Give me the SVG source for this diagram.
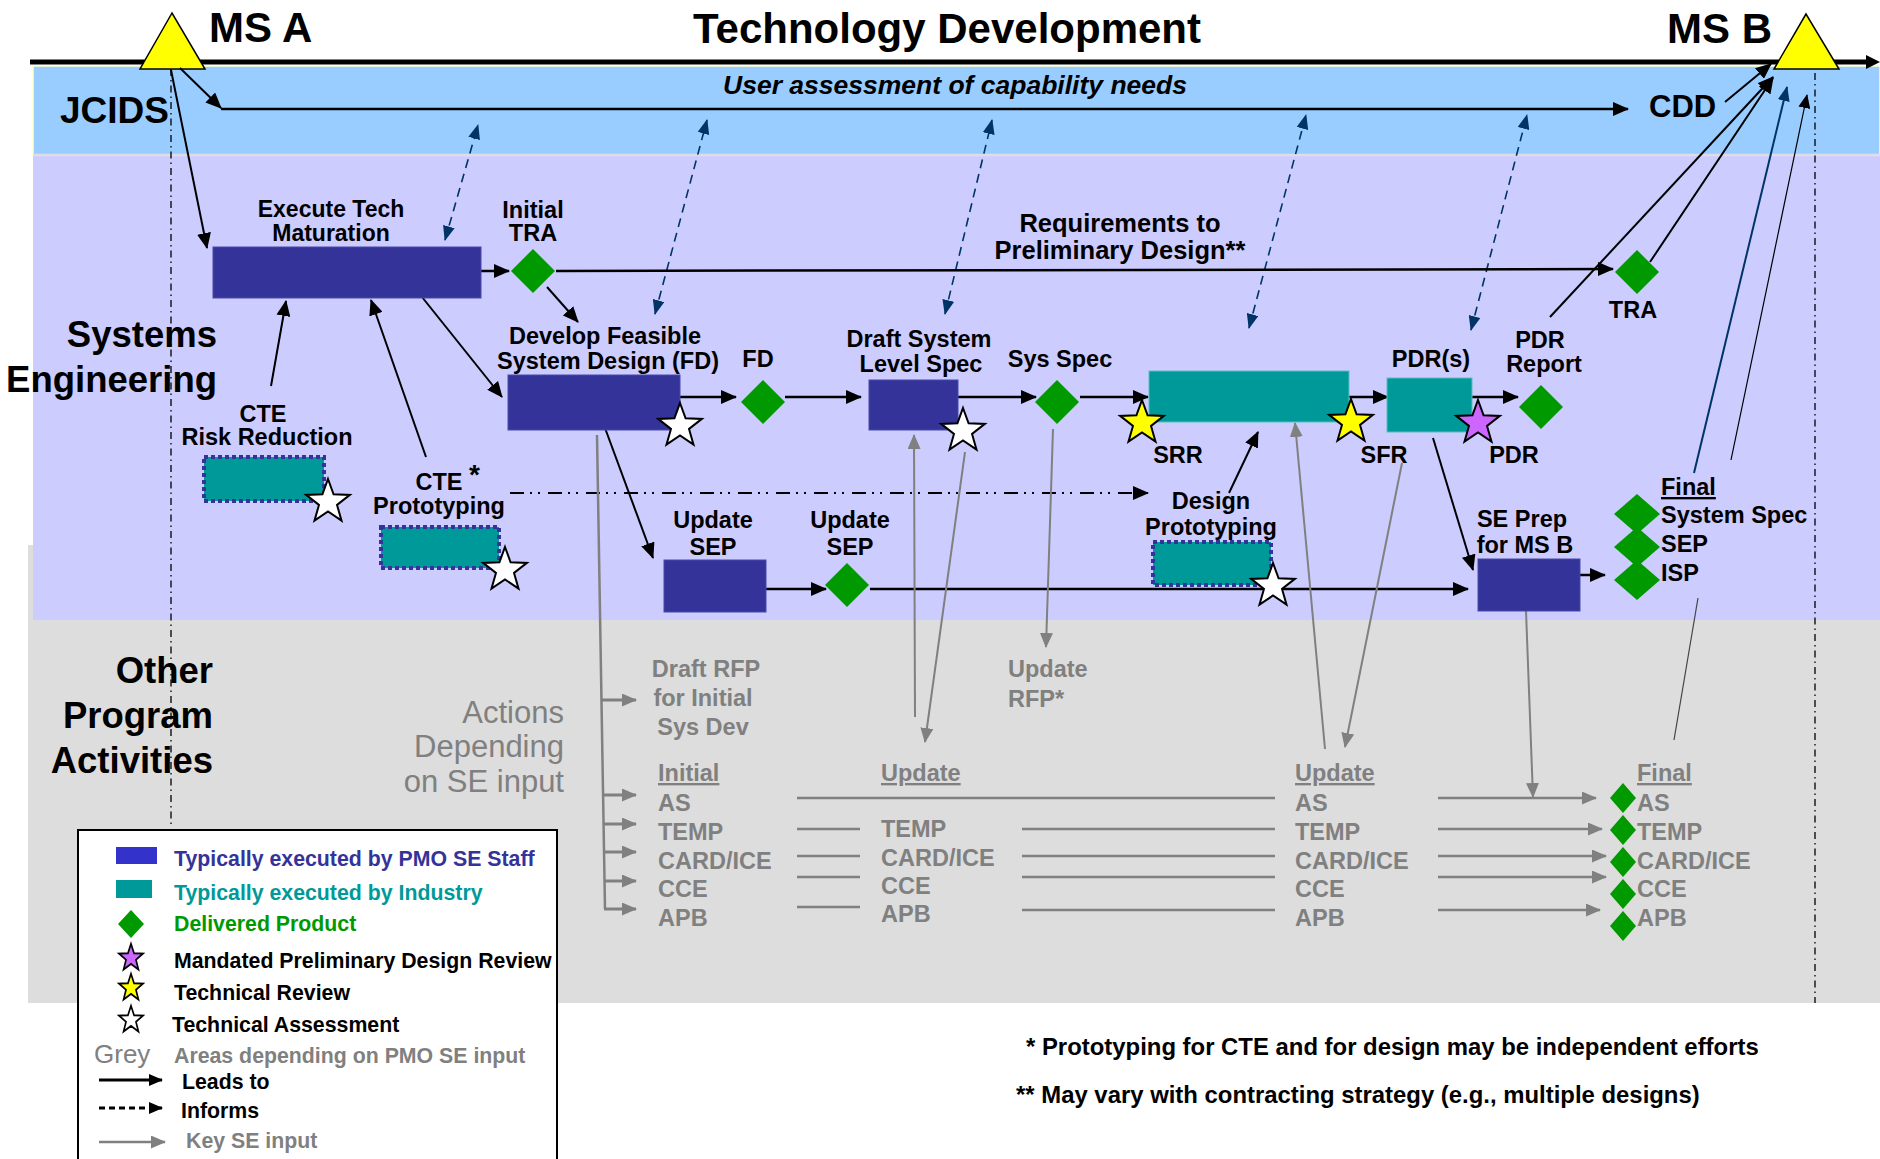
<svg xmlns="http://www.w3.org/2000/svg" xmlns:xlink="http://www.w3.org/1999/xlink" width="1880" height="1159" viewBox="0 0 1880 1159">
<style>
text{font-family:"Liberation Sans",Arial,Helvetica,sans-serif;font-weight:bold;font-size:23.5px;fill:#000}
.c{text-anchor:middle}
.e{text-anchor:end}
.g{fill:#808080}
.big{font-size:36.5px}
.title{font-size:42px}
.lg{font-size:21.3px}
.navy{fill:#333399;stroke:#4a4aa8;stroke-width:1}
.teal{fill:#009999;stroke:#5fbcbc;stroke-width:1}
.dot{fill:#009999;stroke:#333399;stroke-width:4;stroke-dasharray:4 3}
.dia{fill:#009900}
.star{stroke:#000;stroke-width:2;stroke-linejoin:miter}
.lead{stroke:#000;stroke-width:2.5;fill:none;marker-end:url(#ah)}
.lead2{stroke:#000;stroke-width:2;fill:none;marker-end:url(#ah)}
.thin{stroke:#000;stroke-width:1.2;fill:none;marker-end:url(#ahS)}
.inf{stroke:#003366;stroke-width:1.6;fill:none;stroke-dasharray:9 6;marker-start:url(#ahN);marker-end:url(#ahN)}
.key{stroke:#808080;stroke-width:2;fill:none;marker-end:url(#ahG)}
.keyT{stroke:#808080;stroke-width:3;fill:none;marker-end:url(#ahG)}
.gl{stroke:#808080;stroke-width:2.5;fill:none}
.ga{stroke:#808080;stroke-width:2.5;fill:none;marker-end:url(#ahG)}
.dd{stroke:#000;stroke-width:1.3;fill:none;stroke-dasharray:7 4 1.5 4}
</style>
<defs>
<marker id="ah" markerUnits="userSpaceOnUse" markerWidth="16" markerHeight="14" refX="15" refY="7" orient="auto"><path d="M0,0 L16,7 L0,14 z" fill="#000"/></marker>
<marker id="ahS" markerUnits="userSpaceOnUse" markerWidth="14" markerHeight="12" refX="13" refY="6" orient="auto"><path d="M0,0 L14,6 L0,12 z" fill="#000"/></marker>
<marker id="ahN" markerUnits="userSpaceOnUse" markerWidth="15" markerHeight="12" refX="14" refY="6" orient="auto-start-reverse"><path d="M0,0 L15,6 L0,12 z" fill="#003366"/></marker>
<marker id="ahG" markerUnits="userSpaceOnUse" markerWidth="15" markerHeight="13" refX="14" refY="6.5" orient="auto"><path d="M0,0 L15,6.5 L0,13 z" fill="#808080"/></marker>
<path id="star" d="M0,-23 L5.58,-7.69 L21.87,-7.11 L9.03,2.94 L13.52,18.61 L0,9.5 L-13.52,18.61 L-9.03,2.94 L-21.87,-7.11 L-5.58,-7.69 Z"/>
</defs>

<g id="background">
<rect x="0" y="0" width="1880" height="1159" fill="#fff"/>
<rect x="28" y="545" width="1852" height="458" fill="#DDDDDD"/>
<rect x="33" y="155" width="1847" height="465" fill="#CCCCFF"/>
<rect x="33" y="66" width="1847" height="89" fill="#99CCFF" stroke="#FFFFCC" stroke-width="1.5"/>
<line x1="33" y1="155" x2="1880" y2="155" stroke="#DDDDE8" stroke-width="2.5"/>
<line x1="30" y1="62" x2="1868" y2="62" stroke="#000" stroke-width="5"/>
<polygon points="1866,55 1880,62 1866,69" fill="#000"/>
<line class="dd" x1="171" y1="69" x2="171" y2="828"/>
<line class="dd" x1="1815" y1="73" x2="1815" y2="1003"/>
</g>

<g id="lane-labels">
<text x="60" y="123" style="font-size:37px">JCIDS</text>
<text class="big e" x="217" y="347">Systems</text>
<text class="big e" x="217" y="392">Engineering</text>
<text class="big e" x="213" y="683">Other</text>
<text class="big e" x="213" y="728">Program</text>
<text class="big e" x="213" y="773">Activities</text>
<text class="e g" x="564" y="723" style="font-weight:normal;font-size:31px">Actions</text>
<text class="e g" x="564" y="757" style="font-weight:normal;font-size:31px">Depending</text>
<text class="e g" x="564" y="792" style="font-weight:normal;font-size:31px">on SE input</text>
</g>

<g id="ms-a">
<polygon points="172,13 140,69 205,69" fill="#FFFF00" stroke="#000" stroke-width="1.5"/>
<text class="title" x="209" y="42">MS A</text>
</g>
<g id="title"><text class="title c" x="947" y="43">Technology Development</text></g>
<g id="ms-b">
<polygon points="1806,14 1774,69 1839,69" fill="#FFFF00" stroke="#000" stroke-width="1.5"/>
<text class="title" x="1667" y="43">MS B</text>
</g>

<g id="jcids-assessment">
<text class="c" x="955" y="94" style="font-style:italic;font-size:26.5px">User assessment of capability needs</text>
</g>
<g id="cdd"><text x="1649" y="117" style="font-size:31px">CDD</text></g>

<g id="connectors">
<line class="lead2" x1="180" y1="68" x2="221" y2="108"/>
<line class="lead" x1="221" y1="109" x2="1628" y2="109"/>
<line class="lead2" x1="1725" y1="102" x2="1771" y2="64"/>
<line class="lead2" x1="171" y1="70" x2="207" y2="248"/>
<line class="inf" x1="445" y1="240" x2="478" y2="125"/>
<line class="inf" x1="655" y1="314" x2="707" y2="120"/>
<line class="inf" x1="945" y1="314" x2="992" y2="120"/>
<line class="inf" x1="1249" y1="328" x2="1306" y2="115"/>
<line class="inf" x1="1471" y1="330" x2="1527" y2="115"/>
<line class="lead" x1="481" y1="271" x2="509" y2="271"/>
<line class="lead" x1="556" y1="271" x2="1613" y2="269"/>
<line class="lead2" x1="547" y1="287" x2="578" y2="322"/>
<line class="lead2" x1="422" y1="297" x2="502" y2="397"/>
<line class="lead2" x1="271" y1="386" x2="286" y2="301"/>
<line class="lead2" x1="426" y1="457" x2="371" y2="300"/>
<line class="lead" x1="680" y1="397" x2="736" y2="397"/>
<line class="lead" x1="785" y1="397" x2="861" y2="397"/>
<line class="lead" x1="958" y1="397" x2="1036" y2="397"/>
<line class="lead" x1="1080" y1="397" x2="1148" y2="397"/>
<line class="lead" x1="1349" y1="397" x2="1388" y2="397"/>
<line class="lead" x1="1472" y1="397" x2="1518" y2="397"/>
<line class="lead2" x1="605" y1="428" x2="653" y2="558"/>
<line class="lead" x1="766" y1="589" x2="826" y2="589"/>
<line class="lead" x1="870" y1="589" x2="1468" y2="589"/>
<line class="lead2" x1="1229" y1="493" x2="1258" y2="432"/>
<line class="lead2" x1="1433" y1="438" x2="1473" y2="570"/>
<line class="lead" x1="1580" y1="575" x2="1605" y2="575"/>
<line stroke="#000" stroke-width="2" fill="none" stroke-dasharray="14 6 2 6 2 8" marker-end="url(#ah)" x1="510" y1="493" x2="1148" y2="493"/>
<line class="lead2" x1="1550" y1="317" x2="1773" y2="77"/>
<line class="lead2" x1="1650" y1="262" x2="1773" y2="78"/>
<line stroke="#003366" stroke-width="2" fill="none" marker-end="url(#ahN)" x1="1694" y1="473" x2="1787" y2="87"/>
<line class="thin" x1="1731" y1="460" x2="1807" y2="95"/>
<line stroke="#444" stroke-width="1.2" x1="1698" y1="598" x2="1674" y2="740"/>
<polyline class="gl" points="597,435 605,909"/>
<line class="keyT" x1="601" y1="700" x2="636" y2="700"/>
<line class="keyT" x1="603" y1="795" x2="636" y2="795"/>
<line class="keyT" x1="603" y1="824" x2="636" y2="824"/>
<line class="keyT" x1="604" y1="852" x2="636" y2="852"/>
<line class="keyT" x1="604" y1="881" x2="636" y2="881"/>
<line class="keyT" x1="604" y1="909" x2="636" y2="909"/>
<line class="key" x1="1053" y1="429" x2="1046" y2="647"/>
<line class="key" x1="965" y1="452" x2="925" y2="742"/>
<line class="key" x1="915" y1="717" x2="914" y2="435"/>
<line class="key" x1="1402" y1="463" x2="1345" y2="747"/>
<line class="key" x1="1325" y1="749" x2="1295" y2="423"/>
<line class="key" x1="1526" y1="611" x2="1533" y2="797"/>
<line class="gl" x1="797" y1="798" x2="1275" y2="798"/>
<line class="gl" x1="797" y1="829" x2="860" y2="829"/>
<line class="gl" x1="797" y1="856" x2="860" y2="856"/>
<line class="gl" x1="797" y1="877" x2="860" y2="877"/>
<line class="gl" x1="797" y1="907" x2="860" y2="907"/>
<line class="gl" x1="1022" y1="829" x2="1275" y2="829"/>
<line class="gl" x1="1022" y1="856" x2="1275" y2="856"/>
<line class="gl" x1="1022" y1="877" x2="1275" y2="877"/>
<line class="gl" x1="1022" y1="910" x2="1275" y2="910"/>
<line class="ga" x1="1438" y1="798" x2="1596" y2="798"/>
<line class="ga" x1="1438" y1="829" x2="1602" y2="829"/>
<line class="ga" x1="1438" y1="856" x2="1606" y2="856"/>
<line class="ga" x1="1438" y1="877" x2="1606" y2="877"/>
<line class="ga" x1="1438" y1="910" x2="1600" y2="910"/>
</g>

<g id="execute-tech-maturation">
<rect class="navy" x="213" y="247" width="268" height="51"/>
<text class="c" x="331" y="217" style="font-size:23px">Execute Tech</text>
<text class="c" x="331" y="241" style="font-size:23px">Maturation</text>
</g>
<g id="initial-tra">
<polygon class="dia" points="533,249 555,271 533,293 511,271"/>
<text class="c" x="533" y="218">Initial</text>
<text class="c" x="533" y="241">TRA</text>
</g>
<g id="requirements-label">
<text class="c" x="1120" y="232" style="font-size:25.5px">Requirements to</text>
<text class="c" x="1120" y="259" style="font-size:25.5px">Preliminary Design**</text>
</g>
<g id="tra">
<polygon class="dia" points="1637,250 1659,272 1637,294 1615,272"/>
<text class="c" x="1633" y="318">TRA</text>
</g>
<g id="cte-risk-reduction">
<rect class="dot" x="204" y="457" width="120" height="44"/>
<use xlink:href="#star" class="star" fill="#fff" transform="translate(328,502)"/>
<text class="c" x="263" y="422">CTE</text>
<text class="c" x="267" y="445">Risk Reduction</text>
</g>
<g id="cte-prototyping">
<rect class="dot" x="381" y="527" width="118" height="41"/>
<use xlink:href="#star" class="star" fill="#fff" transform="translate(505,570)"/>
<text class="c" x="439" y="490">CTE</text>
<text x="469" y="484" style="font-size:28px">*</text>
<text class="c" x="439" y="514">Prototyping</text>
</g>
<g id="develop-feasible">
<rect class="navy" x="508" y="375" width="172" height="55"/>
<use xlink:href="#star" class="star" fill="#fff" transform="translate(680,426)"/>
<text class="c" x="605" y="344">Develop Feasible</text>
<text class="c" x="608" y="369">System Design (FD)</text>
</g>
<g id="fd">
<polygon class="dia" points="763,380 785,402 763,424 741,402"/>
<text class="c" x="758" y="367">FD</text>
</g>
<g id="draft-system-level-spec">
<rect class="navy" x="869" y="380" width="89" height="50"/>
<use xlink:href="#star" class="star" fill="#fff" transform="translate(963,431)"/>
<text class="c" x="919" y="347">Draft System</text>
<text class="c" x="921" y="372">Level Spec</text>
</g>
<g id="sys-spec">
<polygon class="dia" points="1057,380 1079,402 1057,424 1035,402"/>
<text class="c" x="1060" y="367">Sys Spec</text>
</g>
<g id="industry-design">
<rect class="teal" x="1149" y="371" width="200" height="51"/>
<use xlink:href="#star" class="star" fill="#FFFF00" transform="translate(1142,423)"/>
<use xlink:href="#star" class="star" fill="#FFFF00" transform="translate(1351,422)"/>
<text class="c" x="1178" y="463">SRR</text>
<text class="c" x="1384" y="463">SFR</text>
</g>
<g id="pdrs">
<rect class="teal" x="1387" y="378" width="85" height="54"/>
<use xlink:href="#star" class="star" fill="#CC66FF" transform="translate(1478,423)"/>
<text class="c" x="1431" y="367">PDR(s)</text>
<text class="c" x="1514" y="463">PDR</text>
</g>
<g id="pdr-report">
<polygon class="dia" points="1541,385 1563,407 1541,429 1519,407"/>
<text class="c" x="1540" y="348">PDR</text>
<text class="c" x="1544" y="372">Report</text>
</g>
<g id="design-prototyping">
<rect class="dot" x="1153" y="542" width="118" height="43"/>
<use xlink:href="#star" class="star" fill="#fff" transform="translate(1273,586)"/>
<text class="c" x="1211" y="509">Design</text>
<text class="c" x="1211" y="535">Prototyping</text>
</g>
<g id="update-sep-1">
<rect class="navy" x="664" y="560" width="102" height="52"/>
<text class="c" x="713" y="528">Update</text>
<text class="c" x="713" y="555">SEP</text>
</g>
<g id="update-sep-2">
<polygon class="dia" points="847,563 869,585 847,607 825,585"/>
<text class="c" x="850" y="528">Update</text>
<text class="c" x="850" y="555">SEP</text>
</g>
<g id="se-prep">
<rect class="navy" x="1478" y="559" width="102" height="52"/>
<text class="c" x="1522" y="527">SE Prep</text>
<text class="c" x="1525" y="553">for MS B</text>
</g>
<g id="final-products">
<polygon class="dia" points="1637,494 1660,514 1637,534 1614,514"/>
<polygon class="dia" points="1637,527 1660,547 1637,567 1614,547"/>
<polygon class="dia" points="1637,560 1660,580 1637,600 1614,580"/>
<text x="1661" y="495" text-decoration="underline">Final</text>
<text x="1661" y="523">System Spec</text>
<text x="1661" y="552">SEP</text>
<text x="1661" y="581">ISP</text>
</g>

<g id="draft-rfp">
<text class="c g" x="706" y="677">Draft RFP</text>
<text class="c g" x="703" y="706">for Initial</text>
<text class="c g" x="703" y="735">Sys Dev</text>
</g>
<g id="update-rfp">
<text class="g" x="1008" y="677">Update</text>
<text class="g" x="1008" y="707">RFP*</text>
</g>
<g id="initial-docs">
<text class="g" x="658" y="781" text-decoration="underline">Initial</text>
<text class="g" x="658" y="811">AS</text>
<text class="g" x="658" y="840">TEMP</text>
<text class="g" x="658" y="869">CARD/ICE</text>
<text class="g" x="658" y="897">CCE</text>
<text class="g" x="658" y="926">APB</text>
</g>
<g id="update-docs-1">
<text class="g" x="881" y="781" text-decoration="underline">Update</text>
<text class="g" x="881" y="837">TEMP</text>
<text class="g" x="881" y="866">CARD/ICE</text>
<text class="g" x="881" y="894">CCE</text>
<text class="g" x="881" y="922">APB</text>
</g>
<g id="update-docs-2">
<text class="g" x="1295" y="781" text-decoration="underline">Update</text>
<text class="g" x="1295" y="811">AS</text>
<text class="g" x="1295" y="840">TEMP</text>
<text class="g" x="1295" y="869">CARD/ICE</text>
<text class="g" x="1295" y="897">CCE</text>
<text class="g" x="1295" y="926">APB</text>
</g>
<g id="final-docs">
<polygon class="dia" points="1623,783 1636,798 1623,813 1610,798"/>
<polygon class="dia" points="1623,815 1636,830 1623,845 1610,830"/>
<polygon class="dia" points="1623,847 1636,862 1623,877 1610,862"/>
<polygon class="dia" points="1623,879 1636,894 1623,909 1610,894"/>
<polygon class="dia" points="1623,911 1636,926 1623,941 1610,926"/>
<text class="g" x="1637" y="781" text-decoration="underline">Final</text>
<text class="g" x="1637" y="811">AS</text>
<text class="g" x="1637" y="840">TEMP</text>
<text class="g" x="1637" y="869">CARD/ICE</text>
<text class="g" x="1637" y="897">CCE</text>
<text class="g" x="1637" y="926">APB</text>
</g>

<g id="legend">
<rect x="78" y="830" width="479" height="345" fill="#fff" stroke="#000" stroke-width="2"/>
<rect x="116" y="847" width="41" height="17" fill="#3333CC"/>
<text class="lg" x="174" y="866" style="fill:#333399">Typically executed by PMO SE Staff</text>
<rect x="116" y="880" width="36" height="18" fill="#009999"/>
<text class="lg" x="174" y="900" style="fill:#009999">Typically executed by Industry</text>
<polygon points="131,910 144,924 131,938 118,924" fill="#009900"/>
<text class="lg" x="174" y="931" style="fill:#009900">Delivered Product</text>
<use xlink:href="#star" class="star" fill="#CC66FF" transform="translate(131,958) scale(0.55,0.62)" style="stroke-width:3"/>
<text class="lg" x="174" y="968">Mandated Preliminary Design Review</text>
<use xlink:href="#star" class="star" fill="#FFFF00" transform="translate(131,988) scale(0.55,0.62)" style="stroke-width:3"/>
<text class="lg" x="174" y="1000">Technical Review</text>
<use xlink:href="#star" class="star" fill="#fff" transform="translate(131,1020) scale(0.55,0.62)" style="stroke-width:3"/>
<text class="lg" x="172" y="1032">Technical Assessment</text>
<text class="g" x="94" y="1063" style="font-weight:normal;font-size:26px">Grey</text>
<text class="lg g" x="174" y="1063">Areas depending on PMO SE input</text>
<line x1="99" y1="1080" x2="162" y2="1080" stroke="#000" stroke-width="3" marker-end="url(#ahS)"/>
<text class="lg" x="182" y="1089">Leads to</text>
<line x1="99" y1="1108" x2="162" y2="1108" stroke="#000" stroke-width="3" stroke-dasharray="6 4" marker-end="url(#ahS)"/>
<text class="lg" x="181" y="1118">Informs</text>
<line x1="99" y1="1142" x2="165" y2="1142" stroke="#808080" stroke-width="2.5" marker-end="url(#ahG)"/>
<text class="lg g" x="186" y="1148">Key SE input</text>
</g>

<g id="footnotes">
<text x="1026" y="1055" style="font-size:23.9px">* Prototyping for CTE and for design may be independent efforts</text>
<text x="1016" y="1103" style="font-size:23.9px">** May vary with contracting strategy (e.g., multiple designs)</text>
</g>
</svg>
